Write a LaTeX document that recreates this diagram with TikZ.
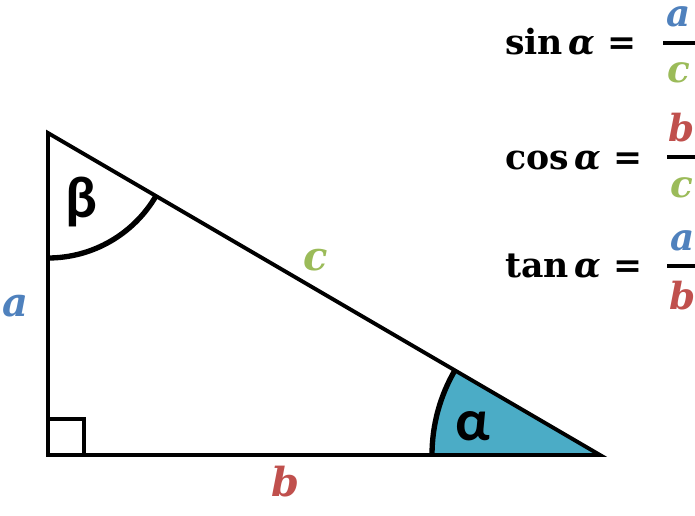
\documentclass[tikz,border=0pt]{standalone}
\usepackage{fontspec}
\setmainfont{DejaVu Serif}
\newfontfamily\anglefont{Carlito}
\definecolor{sideA}{HTML}{4F81BD}
\definecolor{sideB}{HTML}{C0504D}
\definecolor{sideC}{HTML}{9BBB59}
\definecolor{alphafill}{HTML}{4BACC6}
\tikzset{
  side/.style={font=\fontsize{30}{32}\selectfont\bfseries\itshape},
  ang/.style={font=\fontsize{44}{46}\selectfont\anglefont\bfseries},
  formula/.style={anchor=base west,inner sep=0pt,font=\fontsize{26}{28}\selectfont\bfseries},
  frac/.style={inner sep=0pt,font=\fontsize{28}{30}\selectfont\bfseries\itshape},
}
\begin{document}
\begin{tikzpicture}[x=0.75pt,y=-0.75pt,line join=miter]
\useasboundingbox (0,0) rectangle (695,516);
\coordinate (A) at (48,133);
\coordinate (C) at (48,455);
\coordinate (B) at (600,455);
% angle alpha
\fill[alphafill] (B) -- +(180:168) arc (180:210.26:168) -- cycle;
\draw[line width=4pt] (B) ++(180:168) arc (180:210.26:168);
% angle beta
\draw[line width=4pt] (A) ++(90:125) arc (90:30.26:125);
% triangle
\draw[line width=2.9pt] (A) -- (C) -- (B) -- cycle;
\draw[line width=2.9pt] (C) rectangle +(36,-36);
% labels
\node[side,text=sideA] (la) at (15,306) {a};
\node[side,text=sideB] (lb) at (285,482) {b};
\node[side,text=sideC] (lc) at (316,260) {c};
\node[ang] (beta) at (81,202) {β};
\node[ang] (alpha) at (473,426) {α};
% formulas
\node[formula] (sin) at (505,55) {sin\,\textit{α} =};
\node[frac,text=sideA] (sinN) at (679,17) {a};
\node[frac,text=sideC] (sinD) at (679,73) {c};
\draw[line width=2.9pt] (663,43) coordinate (sinL) -- (700,43) coordinate (sinR);
\node[formula] (cos) at (505,170) {cos\,\textit{α} =};
\node[frac,text=sideB] (cosN) at (682,128) {b};
\node[frac,text=sideC] (cosD) at (682,188) {c};
\draw[line width=2.9pt] (667,157) coordinate (cosL) -- (700,157) coordinate (cosR);
\node[formula] (tan) at (505,277) {tan\,\textit{α} =};
\node[frac,text=sideA] (tanN) at (683,241) {a};
\node[frac,text=sideB] (tanD) at (683,296) {b};
\draw[line width=2.9pt] (667,266) coordinate (tanL) -- (700,266) coordinate (tanR);
\end{tikzpicture}
\end{document}
